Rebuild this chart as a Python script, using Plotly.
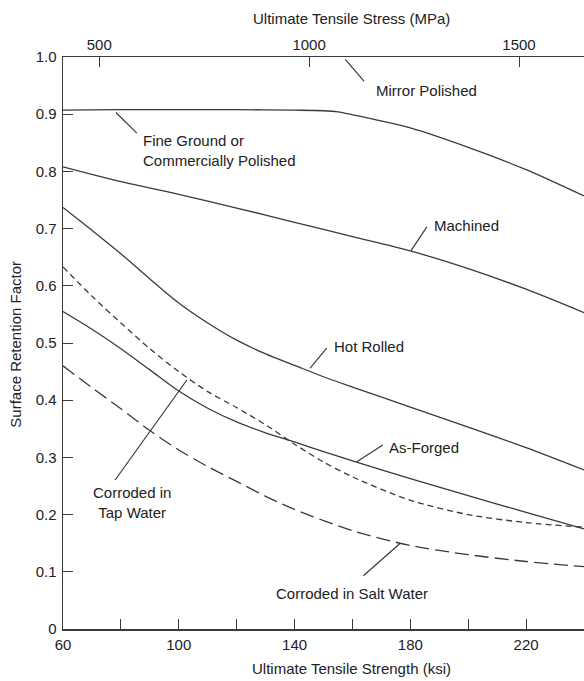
import plotly.graph_objects as go

# ---- data ----
mirror_x = [60, 80, 100, 120, 140, 150, 155, 160, 180, 200, 220, 240]
mirror_y = [0.907, 0.908, 0.908, 0.908, 0.907, 0.906, 0.904, 0.899, 0.876, 0.842, 0.803, 0.757]
ksi = [60, 80, 100, 120, 140, 160, 180, 200, 220, 240]
machined = [0.808, 0.782, 0.760, 0.736, 0.711, 0.686, 0.661, 0.630, 0.594, 0.553]
hot_x = [60, 70, 80, 90, 100, 110, 120, 130, 140, 150, 160, 180, 200, 220, 240]
hot_rolled = [0.737, 0.697, 0.656, 0.612, 0.570, 0.535, 0.505, 0.481, 0.461, 0.441, 0.423, 0.388, 0.353, 0.317, 0.278]
forged_x = [60, 70, 80, 90, 100, 110, 120, 130, 140, 150, 160, 180, 200, 220, 240]
as_forged = [0.555, 0.524, 0.490, 0.453, 0.416, 0.386, 0.362, 0.343, 0.327, 0.310, 0.294, 0.263, 0.233, 0.204, 0.175]
tap_x = [60, 70, 80, 90, 100, 110, 120, 130, 140, 150, 160, 180, 200, 220, 240]
tap_water = [0.633, 0.582, 0.535, 0.490, 0.450, 0.415, 0.387, 0.357, 0.323, 0.292, 0.266, 0.225, 0.200, 0.186, 0.178]
salt_x = [60, 70, 80, 90, 100, 110, 120, 130, 140, 160, 180, 200, 220, 240]
salt_water = [0.460, 0.422, 0.385, 0.347, 0.313, 0.284, 0.258, 0.232, 0.209, 0.172, 0.146, 0.130, 0.118, 0.109]

x_tickvals = [60, 80, 100, 120, 140, 160, 180, 200, 220, 240]
x_ticktext = ["60", "", "100", "", "140", "", "180", "", "220", ""]
y_tickvals = [0, 0.1, 0.2, 0.3, 0.4, 0.5, 0.6, 0.7, 0.8, 0.9, 1.0]
y_ticktext = ["0", "0.1", "0.2", "0.3", "0.4", "0.5", "0.6", "0.7", "0.8", "0.9", "1.0"]
mpa_tickvals = [500, 1000, 1500]
KSI_TO_MPA = 6.895

# labels: (text, x, y, xanchor), leaders: (x0, y0, x1, y1)
labels = [
    ("Mirror Polished", 167.5, 0.942, "left"),
    ("Fine Ground or<br>Commercially Polished", 87.1, 0.837, "left"),
    ("Machined", 187.6, 0.705, "left"),
    ("Hot Rolled", 153.0, 0.4935, "left"),
    ("As-Forged", 172.0, 0.3177, "left"),
    ("Corroded in Salt Water", 159.9, 0.0624, "center"),
    ("Corroded in<br>Tap Water", 84.0, 0.221, "center"),
]
leaders = [
    (157.5, 0.996, 164.0, 0.958),
    (78.3, 0.903, 85.5, 0.867),
    (180.2, 0.661, 185.7, 0.703),
    (145.4, 0.456, 151.1, 0.491),
    (161.5, 0.2925, 170.5, 0.3217),
    (176.5, 0.1498, 163.8, 0.0932),
    (102.8, 0.4353, 78.0, 0.2605),
]

LINE = "#3a3a3a"
TXT = "#222222"
FONT = "Liberation Sans, Arial, sans-serif"

fig = go.Figure()

def add(x, y, dash="solid"):
    fig.add_trace(go.Scatter(x=x, y=y, mode="lines",
                             line=dict(color=LINE, width=1.3, dash=dash, shape="spline", smoothing=0.8),
                             showlegend=False, hoverinfo="skip"))

add(mirror_x, mirror_y)
add(ksi, machined)
add(hot_x, hot_rolled)
add(forged_x, as_forged)
add(tap_x, tap_water, "6px,4px")
add(salt_x, salt_water, "14px,6px")

# dummy trace so the top MPa axis is drawn
fig.add_trace(go.Scatter(x=[60 * KSI_TO_MPA, 240 * KSI_TO_MPA], y=[None, None], xaxis="x2",
                         mode="lines", showlegend=False, hoverinfo="skip"))

for (x0, y0, x1, y1) in leaders:
    fig.add_shape(type="line", x0=x0, y0=y0, x1=x1, y1=y1, xref="x", yref="y",
                  line=dict(color=LINE, width=1.2))

for (t, x, y, xa) in labels:
    fig.add_annotation(text=t, x=x, y=y, xref="x", yref="y", showarrow=False,
                       xanchor=xa, yanchor="middle", align=xa,
                       font=dict(size=15, color=TXT, family=FONT))

# axis titles
fig.add_annotation(text="Ultimate Tensile Strength (ksi)", xref="paper", yref="paper",
                   x=0.554, y=0, yshift=-39, showarrow=False, xanchor="center", yanchor="middle",
                   font=dict(size=15, color=TXT, family=FONT))
fig.add_annotation(text="Ultimate Tensile Stress (MPa)", xref="paper", yref="paper",
                   x=0.554, y=1, yshift=39, showarrow=False, xanchor="center", yanchor="middle",
                   font=dict(size=15, color=TXT, family=FONT))
fig.add_annotation(text="Surface Retention Factor", xref="paper", yref="paper",
                   x=0, xshift=-47, y=0.497, showarrow=False, textangle=-90,
                   xanchor="center", yanchor="middle",
                   font=dict(size=15, color=TXT, family=FONT))

axis_common = dict(showgrid=False, zeroline=False, showline=True, linecolor=LINE, linewidth=1.5,
                   ticks="inside", ticklen=10, tickwidth=1, tickcolor=LINE,
                   tickfont=dict(size=15, color=TXT, family=FONT))

fig.update_layout(
    width=584, height=681,
    margin=dict(l=63, r=0, t=57, b=52),
    paper_bgcolor="white", plot_bgcolor="white",
    hovermode=False,
    xaxis=dict(range=[60, 240], tickvals=x_tickvals, ticktext=x_ticktext,
               ticklabelstandoff=1, **axis_common),
    xaxis2=dict(range=[60 * KSI_TO_MPA, 240 * KSI_TO_MPA], overlaying="x", side="top",
                anchor="y", tickvals=mpa_tickvals, ticklabelstandoff=0, **axis_common),
    yaxis=dict(range=[0, 1], tickvals=y_tickvals, ticktext=y_ticktext,
               ticklabelstandoff=2, **axis_common),
)

# remove the browser's default 8px page margin so the figure fills the window
fig.write_html("out.html", config={"displayModeBar": False, "staticPlot": True},
               post_script="document.body.style.margin='0';document.body.style.overflow='hidden';")
